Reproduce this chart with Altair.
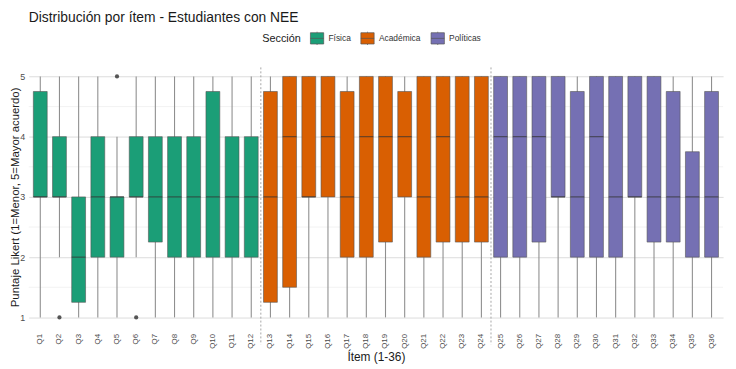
import altair as alt
import pandas as pd

items = ["Q1", "Q2", "Q3", "Q4", "Q5", "Q6", "Q7", "Q8", "Q9", "Q10", "Q11", "Q12",
         "Q13", "Q14", "Q15", "Q16", "Q17", "Q18", "Q19", "Q20", "Q21", "Q22", "Q23", "Q24",
         "Q25", "Q26", "Q27", "Q28", "Q29", "Q30", "Q31", "Q32", "Q33", "Q34", "Q35", "Q36"]
sections = ["Física"] * 12 + ["Académica"] * 12 + ["Políticas"] * 12
q1 = [3, 3, 1.25, 2, 2, 3, 2.25, 2, 2, 2, 2, 2,
      1.25, 1.5, 3, 3, 2, 2, 2.25, 3, 2, 2.25, 2.25, 2.25,
      2, 2, 2.25, 3, 2, 2, 2, 3, 2.25, 2.25, 2, 2]
med = [3, 3, 2, 3, 3, 3, 3, 3, 3, 3, 3, 3,
       3, 4, 3, 4, 3, 4, 4, 4, 3, 4, 3, 3,
       4, 4, 4, 3, 3, 4, 3, 3, 3, 3, 3, 3]
q3 = [4.75, 4, 3, 4, 3, 4, 4, 4, 4, 4.75, 4, 4,
      4.75, 5, 5, 5, 4.75, 5, 5, 4.75, 5, 5, 5, 5,
      5, 5, 5, 5, 4.75, 5, 5, 5, 5, 4.75, 3.75, 4.75]
whisk_lo = [1, 2, 1, 1, 1, 2, 1, 1, 1, 1, 1, 1,
            1, 1, 1, 1, 1, 1, 1, 1, 1, 1, 1, 1,
            1, 1, 1, 1, 1, 1, 1, 1, 1, 1, 1, 1]
whisk_hi = [5, 5, 5, 5, 4, 5, 5, 5, 5, 5, 5, 5,
            5, 5, 5, 5, 5, 5, 5, 5, 5, 5, 5, 5,
            5, 5, 5, 5, 5, 5, 5, 5, 5, 5, 5, 5]
out_items = ["Q2", "Q5", "Q6"]
out_vals = [1, 5, 1]
minor_vals = [1.5, 2.5, 3.5, 4.5]
sep_items = ["Q12", "Q24"]
sec_order = ["Física", "Académica", "Políticas"]
sec_colors = ["#1B9E77", "#D95F02", "#7570B3"]

df = pd.DataFrame(dict(item=items, section=sections, q1=q1, med=med, q3=q3,
                       lo=whisk_lo, hi=whisk_hi))
df_out = pd.DataFrame(dict(item=out_items, val=out_vals))
df_minor = pd.DataFrame(dict(v=minor_vals))
df_sep = pd.DataFrame(dict(item=sep_items))

W, H = 702, 268
FONT = "Liberation Sans"

xscale = alt.Scale(paddingInner=0, paddingOuter=0.1)
xaxis = alt.Axis(title="Ítem (1-36)", labelAngle=270, labelFontSize=8, labelColor="#4d4d4d",
                 labelPadding=4, ticks=False, domain=False, grid=False,
                 titleFontSize=12, titleFontWeight="normal", titleColor="#1a1a1a", titlePadding=3)
yscale = alt.Scale(domain=[0.8, 5.2], nice=False, zero=False)
yaxis = alt.Axis(title="Puntaje Likert (1=Menor, 5=Mayor acuerdo)", values=[1, 2, 3, 4, 5],
                 format="d",
                 grid=True, gridColor="#dcdcdc", gridWidth=1, domain=False, ticks=False,
                 labelFontSize=9, labelColor="#4d4d4d", labelPadding=4,
                 titleFontSize=11.5, titleFontWeight="normal", titleColor="#1a1a1a",
                 titleX=-8, titleY=H / 2)


def X(**kw):
    return alt.X("item:N", sort=items, scale=xscale, axis=xaxis, **kw)


def Y(field):
    return alt.Y(field, scale=yscale, axis=yaxis)


minor = alt.Chart(df_minor).mark_rule(color="#efefef", strokeWidth=0.8).encode(
    y=Y("v:Q"), x=alt.value(0), x2=alt.value(W))

whiskers = alt.Chart(df).mark_rule(color="#8f8f8f", strokeWidth=1.1).encode(
    x=X(), y=Y("lo:Q"), y2="hi:Q")

boxes = alt.Chart(df).mark_bar(width=14, stroke="#555555", strokeWidth=0.6).encode(
    x=X(), y=Y("q1:Q"), y2="q3:Q",
    color=alt.Color("section:N", scale=alt.Scale(domain=sec_order, range=sec_colors),
                    legend=alt.Legend(title="Sección", orient="none", legendX=236, legendY=-34,
                                      direction="horizontal", titleOrient="left",
                                      titleFontSize=11, titleFontWeight="normal",
                                      titleColor="#1a1a1a", titlePadding=8,
                                      labelFontSize=8.5, labelColor="#333333", labelOffset=4,
                                      columnPadding=8,
                                      symbolType="M-1,-0.85H1V0.85H-1Z M-1,0H1 M0,-1V-0.85 M0,0.85V1",
                                      symbolSize=180, symbolStrokeColor="#555555",
                                      symbolStrokeWidth=0.7, symbolOpacity=1)))

medians = alt.Chart(df).mark_tick(color="#333333", thickness=1.2, size=14).encode(
    x=X(), y=Y("med:Q"))

outliers = alt.Chart(df_out).mark_circle(size=18, color="#555555", opacity=1).encode(
    x=X(), y=Y("val:Q"))

seps = alt.Chart(df_sep).mark_rule(color="#a6a6a6", strokeDash=[2, 2], strokeWidth=1).encode(
    x=X(bandPosition=1), y=alt.datum(5.15), y2=alt.datum(0.55))

chart = alt.layer(minor, whiskers, boxes, medians, outliers, seps).properties(
    width=W, height=H,
    title=alt.TitleParams(text="Distribución por ítem - Estudiantes con NEE", anchor="start",
                          frame="group", fontSize=14, fontWeight="normal", color="#1a1a1a",
                          font=FONT, offset=6),
    autosize=alt.AutoSizeParams(type="none"),
    padding={"left": 21, "top": 55, "right": 5, "bottom": 38},
).configure(font=FONT).configure_view(stroke=None)

chart.save("out.html", embed_options={"renderer": "svg", "actions": False})
